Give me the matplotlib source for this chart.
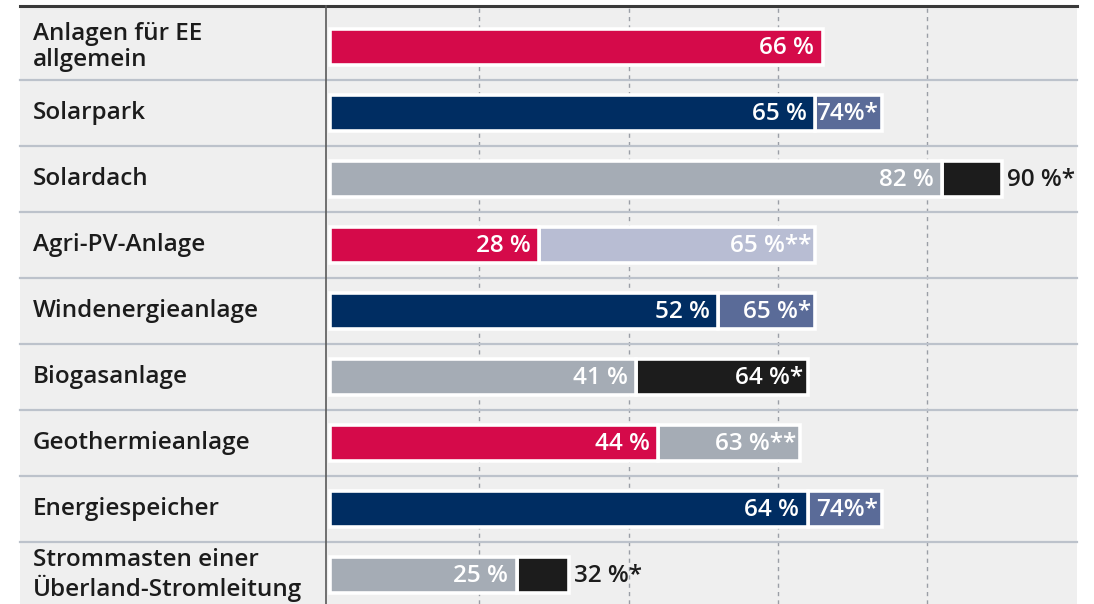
import matplotlib.pyplot as plt
from matplotlib.patches import Rectangle
from matplotlib.transforms import blended_transform_factory

plt.rcParams['font.family'] = ['Open Sans', 'DejaVu Sans']

categories = ['Anlagen für EE\nallgemein', 'Solarpark', 'Solardach', 'Agri-PV-Anlage',
              'Windenergieanlage', 'Biogasanlage', 'Geothermieanlage', 'Energiespeicher',
              'Strommasten einer\nÜberland-Stromleitung']
base_values = [66, 65, 82, 28, 52, 41, 44, 64, 25]
base_labels = ['66 %', '65 %', '82 %', '28 %', '52 %', '41 %', '44 %', '64 %', '25 %']
ext_values = [None, 74, 90, 65, 65, 64, 63, 74, 32]
ext_labels = [None, '74%*', '90 %*', '65 %**', '65 %*', '64 %*', '63 %**', '74%*', '32 %*']
ext_outside = [False, False, True, False, False, False, False, False, True]

RED = '#d50a4a'
NAVY = '#002d62'
GRAY = '#a5acb5'
SLATE = '#5a6b98'
BLACK = '#1c1c1c'
LAVENDER = '#b8bdd3'
base_colors = [RED, NAVY, GRAY, RED, NAVY, GRAY, RED, NAVY, GRAY]
ext_colors = [None, SLATE, BLACK, LAVENDER, SLATE, BLACK, GRAY, SLATE, BLACK]

W, H = 1094, 604
fig = plt.figure(figsize=(W / 100, H / 100), dpi=100)
fig.patch.set_facecolor('white')

# gray panel background
fig.add_artist(Rectangle((20 / W, 0), (1077 - 20) / W, (H - 6) / H,
                         transform=fig.transFigure, facecolor='#efefef',
                         edgecolor='none', zorder=0))

ax = fig.add_axes([326 / W, 0, (1077 - 326) / W, (H - 6) / H])
ax.set_facecolor('none')
ax.set_xlim(-0.54, 100.1)
ax.set_ylim(8.44, -0.62)
for s in ax.spines.values():
    s.set_visible(False)
ax.set_xticks([])
ax.set_yticks([])

# dashed grid
for gx in [20, 40, 60, 80]:
    ax.axvline(gx, color='#9a9ea6', lw=1, ls=(0, (3, 3)), zorder=1)

# row separators across the whole panel
trans_fig_x = blended_transform_factory(fig.transFigure, ax.transData)
for i in range(len(categories) - 1):
    ax.plot([20 / W, 1077 / W], [i + 0.5, i + 0.5], transform=trans_fig_x,
            color='#bcc2cb', lw=1.6, clip_on=False, zorder=1)
ax.plot([20 / W, 1077 / W], [-0.62, -0.62], transform=trans_fig_x,
        color='#3a3a3a', lw=2.2, clip_on=False, zorder=5)
# vertical axis line
fig.add_artist(plt.Line2D([326 / W, 326 / W], [0, (H - 6) / H],
                          transform=fig.transFigure, color='#5a5a5a', lw=1.2, zorder=4))

ypos = list(range(len(categories)))
bh = 0.54
for i in ypos:
    if ext_values[i] is not None:
        ax.barh(i, ext_values[i] - base_values[i], left=base_values[i], height=bh,
                color=ext_colors[i], edgecolor='white', linewidth=2.6, zorder=2)
    ax.barh(i, base_values[i], height=bh, color=base_colors[i],
            edgecolor='white', linewidth=2.6, zorder=3)

    ax.annotate(base_labels[i], (base_values[i], i), xytext=(-6, -1),
                textcoords='offset points', ha='right', va='center',
                color='white', fontsize=17.5, fontweight='semibold', zorder=6)
    if ext_values[i] is not None:
        if ext_outside[i]:
            ax.annotate(ext_labels[i], (ext_values[i], i), xytext=(4, -1),
                        textcoords='offset points', ha='left', va='center',
                        color=BLACK, fontsize=17.5, fontweight='semibold', zorder=6)
        else:
            ax.annotate(ext_labels[i], (ext_values[i], i), xytext=(-3, -1),
                        textcoords='offset points', ha='right', va='center',
                        color='white', fontsize=17.5, fontweight='semibold', zorder=6)

    ax.text(33 / W, i, categories[i], transform=trans_fig_x, ha='left', va='center',
            fontsize=17.5, fontweight='semibold', color='#1c1c1c', linespacing=1.1,
            clip_on=False)

fig.savefig('out.png', dpi=100)
